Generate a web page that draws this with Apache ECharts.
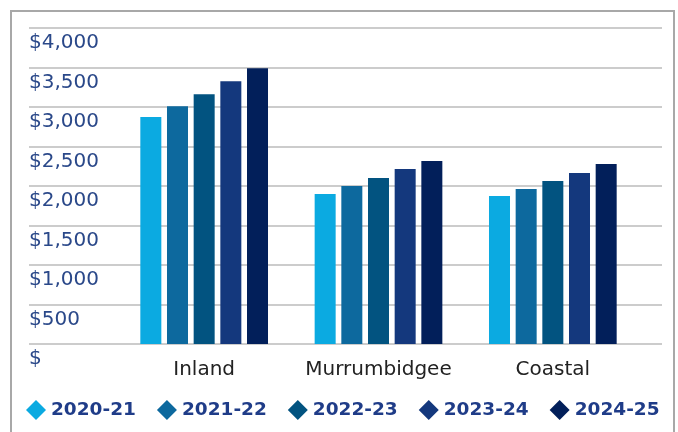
<!DOCTYPE html>
<html>
<head>
<meta charset="utf-8">
<script src="https://cdn.jsdelivr.net/npm/echarts@6/dist/echarts.min.js"></script>
<style>
html,body{margin:0;padding:0;background:#fff;}
#chart{width:678px;height:432px;}
</style>
</head>
<body>
<div id="chart"></div>
<script>
const categories = ['Inland', 'Murrumbidgee', 'Coastal'];
const seriesNames = ['2020-21', '2021-22', '2022-23', '2023-24', '2024-25'];
const values2020 = [2872, 1899, 1874];
const values2021 = [3011, 2000, 1962];
const values2022 = [3162, 2101, 2063];
const values2023 = [3326, 2215, 2164];
const values2024 = [3491, 2316, 2278];
const yTickValues = [0, 500, 1000, 1500, 2000, 2500, 3000, 3500, 4000];
const colors = ['#0BAAE1', '#0D699E', '#025380', '#14387D', '#021F5A'];

const allValues = [values2020, values2021, values2022, values2023, values2024];

const chart = echarts.init(document.getElementById('chart'));
const option = {
  animation: false,
  graphic: [{
    type: 'rect',
    shape: { x: 11, y: 11, width: 663, height: 440 },
    style: { fill: 'none', stroke: '#a8a8a8', lineWidth: 2 },
    z: 100
  }],
  legend: {
    left: 26,
    top: 400,
    padding: 0,
    icon: 'diamond',
    itemWidth: 20,
    itemHeight: 20,
    itemGap: 21,
    data: seriesNames,
    textStyle: {
      fontFamily: 'DejaVu Sans',
      fontWeight: 'bold',
      fontSize: 18.5,
      color: '#1F3C88'
    }
  },
  grid: [
    { left: 29, right: 16, top: 28, bottom: 88 },
    { left: 117, right: 38, top: 28, bottom: 88 }
  ],
  xAxis: [
    { gridIndex: 0, type: 'category', data: [], show: false },
    {
      gridIndex: 1, type: 'category', data: categories,
      axisLine: { show: false }, axisTick: { show: false },
      axisLabel: { interval: 0, fontFamily: 'DejaVu Sans', fontSize: 20, color: '#222', margin: 16 }
    }
  ],
  yAxis: [
    {
      gridIndex: 0, type: 'value', min: 0, max: 4000, interval: 500,
      axisLine: { show: false }, axisTick: { show: false },
      splitLine: { show: true, lineStyle: { color: '#cccccc', width: 2 } },
      axisLabel: {
        inside: true, margin: 0, verticalAlign: 'top', padding: [5, 0, 0, 0],
        fontFamily: 'DejaVu Sans', fontSize: 20, color: '#2A4889',
        formatter: function (v) {
          if (yTickValues.indexOf(v) < 0) return '';
          return v === 0 ? '$' : '$' + v.toLocaleString('en-US');
        }
      }
    },
    { gridIndex: 1, type: 'value', min: 0, max: 4000, interval: 500, show: false, splitLine: { show: false } }
  ],
  series: seriesNames.map(function (name, i) {
    return {
      name: name,
      type: 'bar',
      xAxisIndex: 1,
      yAxisIndex: 1,
      barWidth: 21,
      barGap: '27%',
      itemStyle: { color: colors[i] },
      data: allValues[i]
    };
  })
};
chart.setOption(option);
</script>
</body>
</html>
